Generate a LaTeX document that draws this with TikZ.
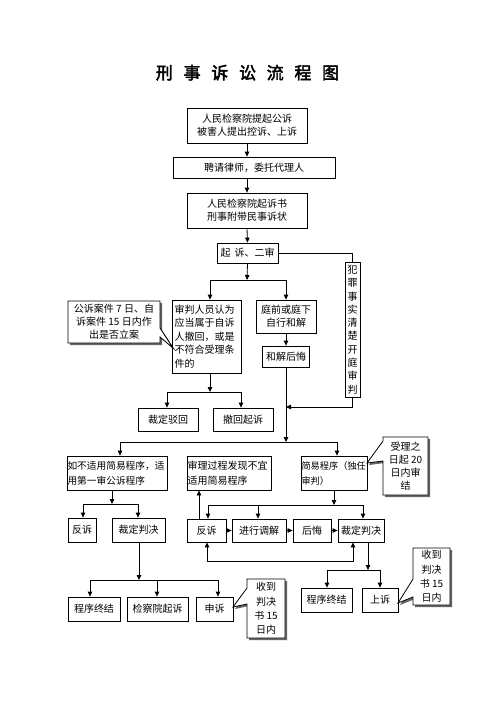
\documentclass[tikz,border=0pt]{standalone}
\usepackage{fontspec}
\setmainfont{Liberation Serif}
\newfontfamily\cjk{Noto Sans CJK SC}
\newfontfamily\cjkt[FakeBold=2.5]{Noto Sans CJK SC}
\usetikzlibrary{arrows.meta,calc}
\tikzset{
  box/.style={draw, line width=0.8pt, inner sep=0pt, align=center,
    font=\cjk\fontsize{10}{13}\selectfont},
  ctext/.style={inner sep=0pt, align=center, font=\cjk\fontsize{10}{13}\selectfont},
  ln/.style={line width=0.8pt},
  arr/.style={line width=0.8pt, -{Triangle[length=5pt,width=4.5pt]}},
  barr/.style={line width=0.8pt, {Triangle[length=5pt,width=4.5pt]}-{Triangle[length=5pt,width=4.5pt]}},
  callshape/.style={line width=0.8pt, draw=black, fill=white},
  callshadow/.style={fill=black!60, draw=none},
  ttl/.style={inner sep=0pt, font=\cjkt\fontsize{17}{20}\selectfont}
}
\begin{document}
\begin{tikzpicture}[x=1pt,y=-1pt]
\fill[white] (0,0) rectangle (496,702);
\useasboundingbox (0,0) rectangle (496,702);

% title
\node[ttl] (title) at (247.5,72.7) {刑\hspace{10.7pt}事\hspace{10.7pt}诉\hspace{10.7pt}讼\hspace{10.7pt}流\hspace{10.7pt}程\hspace{10.7pt}图};

% callout shapes (with shadows)
\foreach \s/\c in {2/callshadow, 0/callshape}{
  \path[\c, shift={(\s,\s)}] (68,301) -- (160,301) -- (160,328) -- (173,348) -- (160,337) -- (160,343) -- (68,343) -- cycle;
  \path[\c, shift={(\s,\s)}] (383,437) -- (428,437) -- (428,495) -- (383,495) -- (383,461) -- (367,463) -- (383,441) -- cycle;
  \path[\c, shift={(\s,\s)}] (247,579) -- (285,579) -- (285,638) -- (247,638) -- (247,604) -- (233,607) -- (247,588) -- cycle;
  \path[\c, shift={(\s,\s)}] (413,548) -- (450,548) -- (450,605) -- (413,605) -- (413,597) -- (398,603) -- (413,579) -- cycle;
}
\node[ctext] (c1) at (114,322) {公诉案件 7 日、自\\诉案件 15 日内作\\出是否立案};
\node[ctext, font=\cjk\fontsize{10}{13}\selectfont] (c2) at (405.5,466) {受理之\\日起 20\\日内审\\结};
\node[ctext, font=\cjk\fontsize{10}{14.2}\selectfont] (c3) at (266,608.5) {收到\\判决\\书 15\\日内};
\node[ctext, font=\cjk\fontsize{10}{14.2}\selectfont] (c4) at (431.5,576.5) {收到\\判决\\书 15\\日内};

% main boxes
\node[box, minimum width=120, minimum height=35] (b1) at (247,125.5) {人民检察院提起公诉\\被害人提出控诉、上诉};
\node[box, minimum width=162, minimum height=21] (b2) at (254,167.5) {聘请律师，委托代理人};
\node[box, minimum width=120, minimum height=35] (b3) at (247,210.5) {人民检察院起诉书\\刑事附带民事诉状};
\node[box, minimum width=61, minimum height=20] (b4) at (247.5,253) {起\hspace{4pt}诉、二审};
\node[box, minimum width=15, minimum height=135, font=\cjk\fontsize{10}{13.3}\selectfont] (fz) at (352.5,329.5) {犯\\罪\\事\\实\\清\\楚\\开\\庭\\审\\判};
\node[box, minimum width=69, minimum height=73, text width=64, align=left, font=\cjk\fontsize{10}{13.6}\selectfont] (b5) at (206.5,336.5) {审判人员认为\\应当属于自诉\\人撤回，或是\\不符合受理条\\件的};
\node[box, minimum width=60, minimum height=33] (b6) at (286,316.5) {庭前或庭下\\自行和解};
\node[box, minimum width=47, minimum height=21] (b7) at (286,356.5) {和解后悔};
\node[box, minimum width=60, minimum height=23] (r1) at (168,419.5) {裁定驳回};
\node[box, minimum width=60, minimum height=23] (r2) at (243,419.5) {撤回起诉};

\node[box, minimum width=100, minimum height=34, text width=99, align=left, font=\cjk\fontsize{9.7}{15}\selectfont] (m1) at (117,473) {如不适用简易程序，适\\用第一审公诉程序};
\node[box, minimum width=84, minimum height=34, text width=83, align=left, font=\cjk\fontsize{10}{15}\selectfont] (m2) at (229,473) {审理过程发现不宜\\适用简易程序};
\node[box, minimum width=66, minimum height=34, text width=65, align=left, font=\cjk\fontsize{9.2}{15}\selectfont] (m3) at (334,473) {简易程序（独任\\审判）};

\node[box, minimum width=28, minimum height=24] (l1) at (82,530) {反诉};
\node[box, minimum width=53, minimum height=24] (l2) at (138.5,530) {裁定判决};
\node[box, minimum width=52, minimum height=24] (p1) at (94,609) {程序终结};
\node[box, minimum width=61, minimum height=24] (p2) at (157.5,609) {检察院起诉};
\node[box, minimum width=37, minimum height=24] (p3) at (214.5,609) {申诉};

\node[box, minimum width=39, minimum height=23] (s1) at (206.5,530.5) {反诉};
\node[box, minimum width=54, minimum height=23] (s2) at (259,530.5) {进行调解};
\node[box, minimum width=38, minimum height=23] (s3) at (312,530.5) {后悔};
\node[box, minimum width=46, minimum height=23] (s4) at (361,530.5) {裁定判决};
\node[box, minimum width=51, minimum height=24] (q1) at (326.5,600) {程序终结};
\node[box, minimum width=36, minimum height=24] (q2) at (380,600) {上诉};

% junction coordinates
\coordinate (j1) at (247,280);
\coordinate (j1l) at (210,280);
\coordinate (j1r) at (286,280);
\coordinate (j2) at (286,442);
\coordinate (j2l) at (120,442);
\coordinate (j2r) at (337,442);
\coordinate (j3) at (286,407);
\coordinate (j4) at (210,392);
\coordinate (j4l) at (167,392);
\coordinate (j4r) at (241,392);
\coordinate (j5) at (112,504);
\coordinate (j5l) at (83,504);
\coordinate (j5r) at (138,504);
\coordinate (j6) at (139,580);
\coordinate (j6l) at (90,580);
\coordinate (j6m) at (157,580);
\coordinate (j6r) at (218,580);
\coordinate (j7) at (334,505);
\coordinate (j7l) at (208,505);
\coordinate (j7m) at (258,505);
\coordinate (j7r) at (363,505);
\coordinate (k1) at (199,0);
\coordinate (k2) at (207,561);
\coordinate (k3) at (353,561);
\coordinate (j8) at (368,570);
\coordinate (j8l) at (327,570);
\coordinate (j8r) at (380,570);

% connectors
\draw[arr] (b1.south) -- (b1.south |- b2.north);
\draw[arr] (b1.south |- b2.south) -- (b3.north);
\draw[arr] (b3.south) -- (b4.north);
\draw[ln] (b4.east) -| (fz.north);
\draw[arr] (fz.south) |- (j3);
\draw[arr] (b4.south) -- (j1);
\draw[ln] (j1l) -- (j1r);
\draw[arr] (j1l) -- (j1l |- b5.north);
\draw[arr] (j1r) -- (b6.north);
\draw[arr] (b6.south) -- (b7.north);
\draw[arr] (b7.south) -- (j2);
\draw[ln] (j2l) -- (j2r);
\draw[arr] (j2l) -- (j2l |- m1.north);
\draw[arr] (j2r) -- (j2r |- m3.north);

\draw[arr] (j4 |- b5.south) -- (j4);
\draw[ln] (j4l) -- (j4r);
\draw[arr] (j4l) -- (j4l |- r1.north);
\draw[arr] (j4r) -- (j4r |- r2.north);

\draw[arr] (j5 |- m1.south) -- (j5);
\draw[ln] (j5l) -- (j5r);
\draw[arr] (j5l) -- (j5l |- l1.north);
\draw[arr] (j5r) -- (j5r |- l2.north);

\draw[arr] (j6 |- l2.south) -- (j6);
\draw[ln] (j6l) -- (j6r);
\draw[arr] (j6l) -- (j6l |- p1.north);
\draw[arr] (j6m) -- (j6m |- p2.north);
\draw[arr] (j6r) -- (j6r |- p3.north);

\draw[arr] (j7 |- m3.south) -- (j7);
\draw[ln] (j7l) -- (j7r);
\draw[arr] (j7l) -- (j7l |- s1.north);
\draw[arr] (j7m) -- (j7m |- s2.north);
\draw[arr] (j7r) -- (j7r |- s4.north);

\draw[arr] (s1.east) -- (s2.west);
\draw[arr] (s2.east) -- (s3.west);
\draw[arr] (s3.east) -- (s4.west);
\draw[arr] (k1 |- s1.north) -- (k1 |- m2.south);
\draw[barr] (k2 |- s1.south) -- (k2) -- (k3) -- (k3 |- s4.south);

\draw[arr] (j8 |- s4.south) -- (j8);
\draw[ln] (j8l) -- (j8r);
\draw[arr] (j8l) -- (j8l |- q1.north);
\draw[arr] (j8r) -- (j8r |- q2.north);
\end{tikzpicture}
\end{document}
